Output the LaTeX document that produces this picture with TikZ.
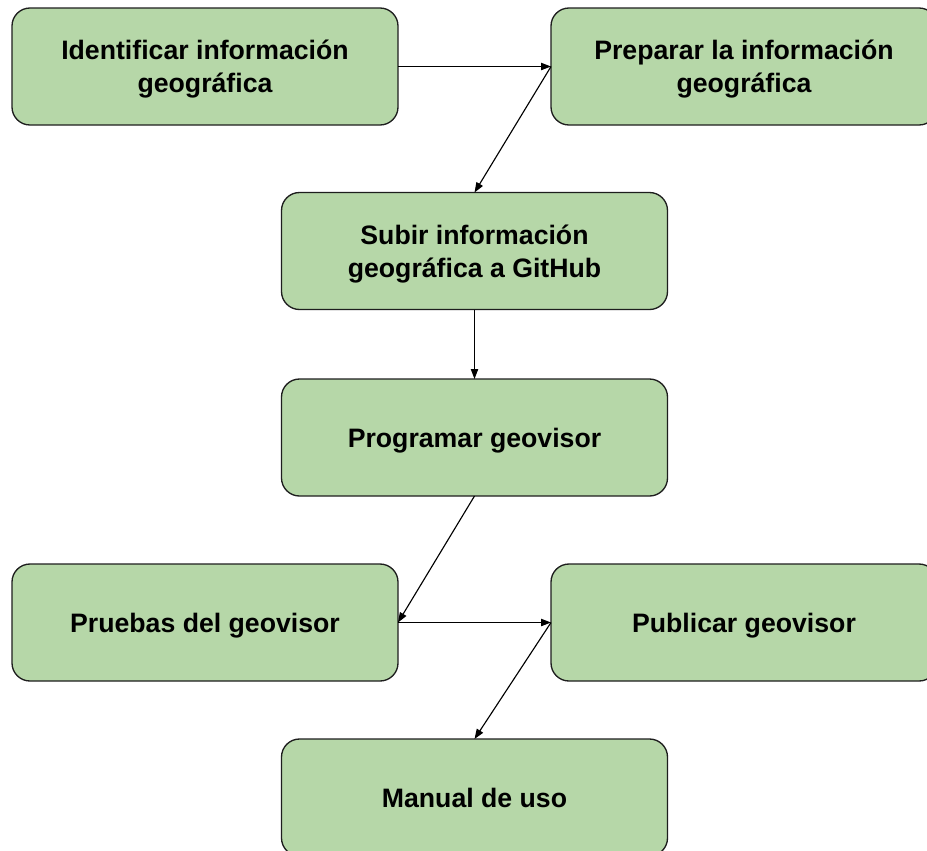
\documentclass[tikz,border=0pt]{standalone}
\usepackage{fontspec}
\setmainfont{Liberation Sans}
\usetikzlibrary{arrows.meta}
\definecolor{boxgreen}{HTML}{B6D7A8}
\definecolor{boxline}{HTML}{1E1E1E}
\newcommand{\boxtxt}[1]{\raisebox{-2.5pt}[\height][\depth]{\begin{tabular}{@{}c@{}}#1\end{tabular}}}
\tikzset{
  stepbox/.style={draw=boxline, line width=1pt, fill=boxgreen, rounded corners=13.5pt,
    minimum width=289.5pt, minimum height=87.75pt, inner sep=0pt, outer sep=0pt,
    font=\bfseries\fontsize{20}{24.75}\selectfont, text=black},
  link/.style={draw=black, line width=0.85pt, -{Triangle[length=7.5pt,width=5.5pt]}}
}
\begin{document}
\begin{tikzpicture}[x=0.75pt,y=-0.75pt]
\useasboundingbox (0,0) rectangle (927,850);
\clip (0,0) rectangle (927,850);
\fill[white] (0,0) rectangle (927,850);
\node[stepbox] (b1) at (205,66.5) {\boxtxt{Identificar información\\geográfica}};
\node[stepbox] (b2) at (744,66.5) {\boxtxt{Preparar la información\\geográfica}};
\node[stepbox] (b3) at (474.5,251) {\boxtxt{Subir información\\geográfica a GitHub}};
\node[stepbox] (b4) at (474.5,437.5) {\boxtxt{Programar geovisor}};
\node[stepbox] (b5) at (205,622.5) {\boxtxt{Pruebas del geovisor}};
\node[stepbox] (b6) at (744,622.5) {\boxtxt{Publicar geovisor}};
\node[stepbox] (b7) at (474.5,797.5) {\boxtxt{Manual de uso}};
\draw[link] (b1.east) -- (b2.west);
\draw[link] (b2.west) -- (b3.north);
\draw[link] (b3.south) -- (b4.north);
\draw[link] (b4.south) -- (b5.east);
\draw[link] (b5.east) -- (b6.west);
\draw[link] (b6.west) -- (b7.north);
\end{tikzpicture}
\end{document}
